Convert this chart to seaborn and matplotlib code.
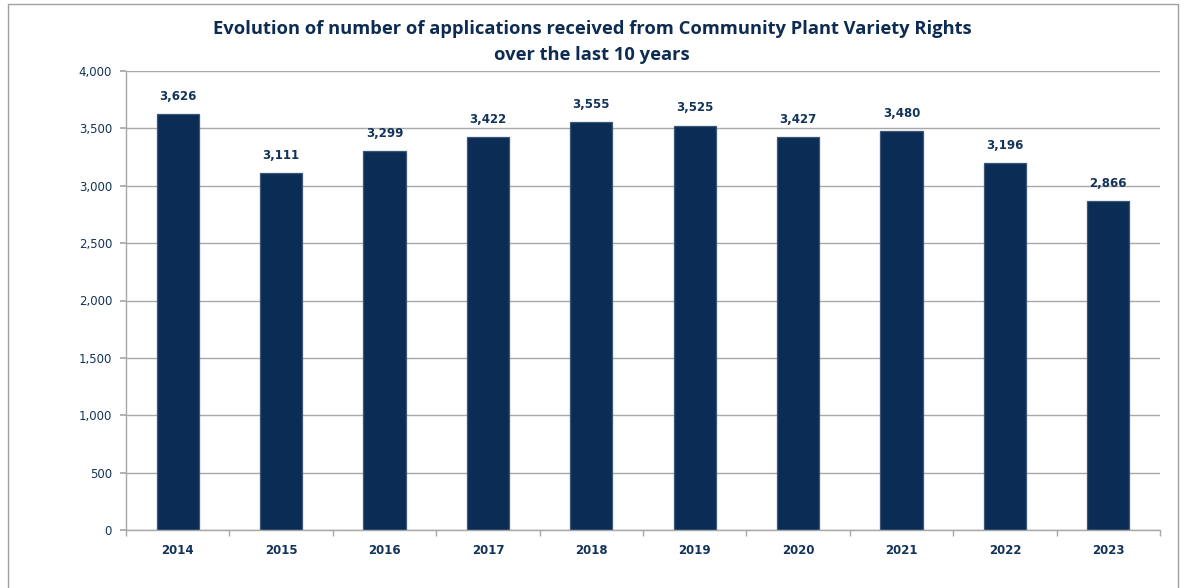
import matplotlib
matplotlib.use("Agg")
import matplotlib.pyplot as plt
import seaborn as sns
import pandas as pd
from matplotlib.patches import Rectangle
from matplotlib.ticker import FuncFormatter, MultipleLocator

years = ["2014", "2015", "2016", "2017", "2018", "2019", "2020", "2021", "2022", "2023"]
applications = [3626, 3111, 3299, 3422, 3555, 3525, 3427, 3480, 3196, 2866]
title = "Evolution of number of applications received from Community Plant Variety Rights\nover the last 10 years"

df = pd.DataFrame({"year": years, "applications": applications})

sns.set_theme(style="white")
plt.rcParams["font.family"] = ["DejaVu Sans"]

navy = "#0b2d55"
text_c = "#13335a"
title_c = "#0e2c52"
grid_c = "#a8a8a8"

fig = plt.figure(figsize=(11.84, 5.88), dpi=100)
ax = fig.add_axes([126 / 1184, 1 - 530 / 588, (1160 - 126) / 1184, (530 - 71) / 588])

sns.barplot(data=df, x="year", y="applications", color=navy, width=0.41,
            saturation=1, ax=ax, edgecolor="#3d5577", linewidth=0.9)

ax.set_ylim(0, 4000)
ax.set_xlim(-0.5, len(years) - 0.5)
ax.yaxis.set_major_locator(MultipleLocator(500))
ax.yaxis.set_major_formatter(FuncFormatter(lambda v, p: f"{int(v):,}"))
ax.grid(axis="y", color=grid_c, linewidth=1)
ax.set_axisbelow(True)
for s in ["top", "right"]:
    ax.spines[s].set_visible(False)
for s in ["left", "bottom"]:
    ax.spines[s].set_color(grid_c)
    ax.spines[s].set_linewidth(1)
ax.set_xlabel("")
ax.set_ylabel("")

ax.tick_params(axis="y", left=True, length=4, color=grid_c, labelsize=8.5,
               labelcolor=text_c, pad=6)
ax.tick_params(axis="x", bottom=False, labelsize=8.5, labelcolor=text_c, pad=4)
for lab in ax.get_xticklabels():
    lab.set_fontweight("bold")

# category separator ticks on x-axis
ax.set_xticks([i + 0.5 for i in range(-1, len(years))], minor=True)
ax.tick_params(axis="x", which="minor", bottom=True, length=4, color=grid_c, direction="out")

for i, v in enumerate(applications):
    ax.annotate(f"{v:,}", (i, v), xytext=(0, 8), textcoords="offset points",
                ha="center", va="bottom", fontsize=8.5, fontweight="bold", color=text_c)

fig.text(592 / 1184, 1 - 42 / 588, title, ha="center", va="center",
         fontsize=13.2, fontweight="bold", color=title_c, family="Open Sans",
         linespacing=1.6)

fig.patches.append(Rectangle((8 / 1184, -0.05), (1178 - 8) / 1184, 1.05 - 4 / 588,
                             transform=fig.transFigure, fill=False,
                             edgecolor="#a0a0a0", linewidth=1))

fig.savefig("out.png", dpi=100)
